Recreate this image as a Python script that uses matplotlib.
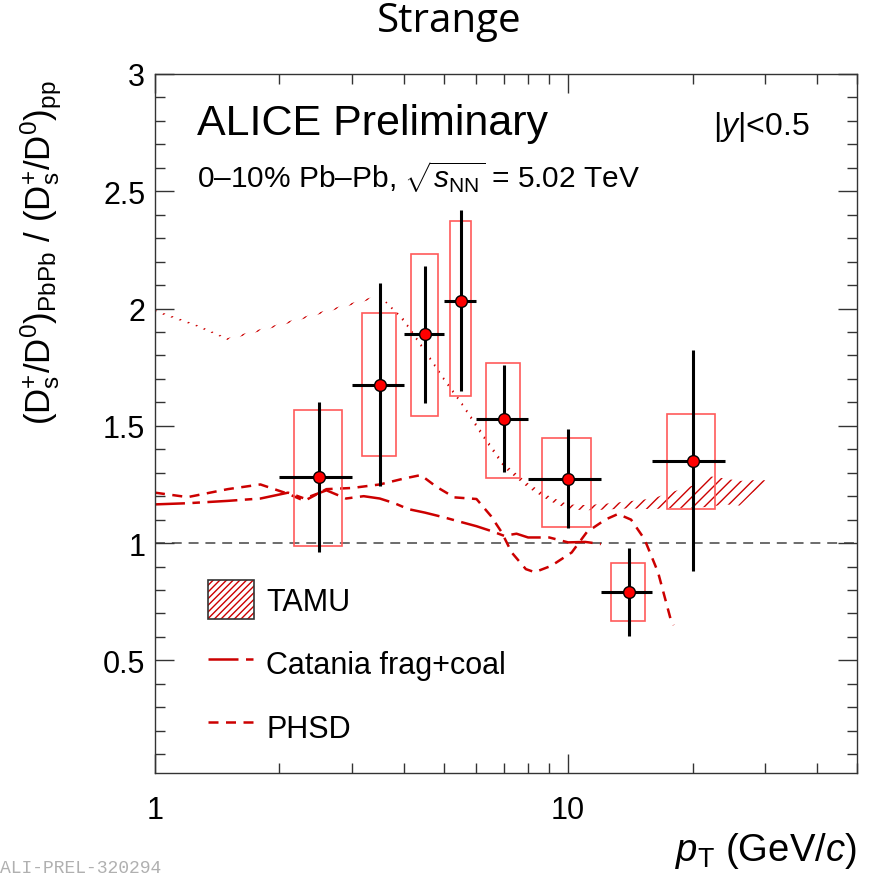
import numpy as np
import matplotlib
matplotlib.use('Agg')
import matplotlib.pyplot as plt
from matplotlib.patches import Rectangle, Patch
from matplotlib.ticker import MultipleLocator, FuncFormatter, NullFormatter, FixedLocator
from matplotlib.legend_handler import HandlerTuple

plt.rcParams['font.family'] = ['Liberation Sans', 'DejaVu Sans']
plt.rcParams['mathtext.fontset'] = 'custom'
plt.rcParams['mathtext.rm'] = 'Liberation Sans'
plt.rcParams['mathtext.it'] = 'Liberation Sans:italic'
plt.rcParams['mathtext.bf'] = 'Liberation Sans:bold'
plt.rcParams['hatch.linewidth'] = 1.0

# ---- measured points (Ds/D0 double ratio, 0-10% Pb-Pb) ----
pt = np.array([2.5, 3.5, 4.5, 5.5, 7.0, 10.0, 14.0, 20.0])
pt_lo = np.array([2, 3, 4, 5, 6, 8, 12, 16])
pt_hi = np.array([3, 4, 5, 6, 8, 12, 16, 24])
ratio = np.array([1.283, 1.676, 1.890, 2.034, 1.527, 1.274, 0.792, 1.351])
stat_lo = np.array([0.963, 1.244, 1.597, 1.648, 1.304, 1.063, 0.605, 0.879])
stat_hi = np.array([1.600, 2.111, 2.180, 2.421, 1.759, 1.486, 0.977, 1.823])
syst_lo = np.array([0.986, 1.372, 1.540, 1.628, 1.278, 1.067, 0.666, 1.144])
syst_hi = np.array([1.568, 1.983, 2.233, 2.373, 1.767, 1.446, 0.915, 1.549])

# ---- TAMU band ----
tamu_pt = [1.0, 1.25, 1.5, 2.0, 2.5, 3.0, 3.5, 4.0, 4.5, 5.0, 5.5, 6.0, 6.5, 7.0,
           8.0, 9.0, 10.0, 11.0, 12.0, 14.0, 16.0, 18.0, 20.0, 22.0, 24.0, 26.0, 28.0, 30.0]
tamu_lo = [1.986, 1.926, 1.866, 1.926, 1.976, 2.016, 2.050, 1.942, 1.812, 1.692, 1.592, 1.490,
           1.400, 1.320, 1.235, 1.180, 1.145, 1.140, 1.142, 1.148, 1.145, 1.150, 1.150, 1.155,
           1.165, 1.160, 1.215, 1.250]
tamu_hi = [1.994, 1.934, 1.874, 1.934, 1.984, 2.024, 2.058, 1.958, 1.828, 1.708, 1.608, 1.510,
           1.420, 1.340, 1.255, 1.200, 1.165, 1.162, 1.166, 1.178, 1.190, 1.220, 1.245, 1.285,
           1.275, 1.265, 1.268, 1.268]

# ---- Catania frag+coal ----
cat_pt = [1.0, 1.2, 1.5, 1.8, 2.1, 2.3, 2.6, 2.9, 3.2, 3.5, 3.8, 4.1, 4.5, 5.0, 5.5,
          6.0, 6.5, 7.0, 7.5, 8.0, 9.0, 10.0, 11.0, 12.0]
cat_val = [1.165, 1.170, 1.180, 1.190, 1.215, 1.190, 1.225, 1.190, 1.200, 1.190, 1.170, 1.145,
           1.130, 1.110, 1.090, 1.072, 1.052, 1.031, 1.040, 1.024, 1.024, 1.003, 1.005, 0.996]

# ---- PHSD ----
phsd_pt = [1.0, 1.2, 1.5, 1.8, 2.1, 2.3, 2.6, 3.0, 3.5, 4.0, 4.4, 4.8, 5.3, 6.0, 6.5, 6.9,
           7.3, 7.9, 8.3, 9.1, 10.2, 11.1, 12.3, 13.2, 14.2, 15.3, 16.5, 17.7, 18.0]
phsd_val = [1.215, 1.196, 1.230, 1.250, 1.210, 1.180, 1.230, 1.235, 1.250, 1.275, 1.290, 1.240,
            1.195, 1.188, 1.116, 1.047, 0.960, 0.889, 0.876, 0.903, 0.960, 1.047, 1.100, 1.124,
            1.100, 1.017, 0.876, 0.676, 0.650]

red_line = '#cc0000'
red_box = '#ff5a5a'

fig = plt.figure(figsize=(8.84, 8.79), dpi=100)
ax = fig.add_axes([0.1753, 0.1195, 0.7941, 0.7952])
ax.set_xscale('log')
ax.set_xlim(1, 50)
ax.set_ylim(0.02, 3.0)

ax.axhline(1.0, color='#444444', lw=1.1, ls=(0, (6.5, 4.5)), zorder=1)

# TAMU hatched band
ax.fill_between(tamu_pt, tamu_lo, tamu_hi, facecolor='none', edgecolor=red_line,
                hatch='///', linewidth=0, zorder=2)
cat_line, = ax.plot(cat_pt, cat_val, color=red_line, lw=1.8, ls=(0, (12, 3, 3, 3)), zorder=2)
phsd_line, = ax.plot(phsd_pt, phsd_val, color=red_line, lw=1.8, ls=(0, (4, 3)), zorder=2)

# systematic boxes: 2/3 of the bin width
for c, lo, hi, ylo, yhi in zip(pt, pt_lo, pt_hi, syst_lo, syst_hi):
    hw = (hi - lo) / 3.0
    ax.add_patch(Rectangle((c - hw, ylo), 2 * hw, yhi - ylo, facecolor='none',
                           edgecolor=red_box, lw=1.2, zorder=3))

ax.errorbar(pt, ratio, xerr=[pt - pt_lo, pt_hi - pt], yerr=[ratio - stat_lo, stat_hi - ratio],
            fmt='o', color='black', mfc='red', mec='black', mew=1.0, ms=8.5,
            elinewidth=2.2, capsize=0, zorder=5)

# axes style (ROOT like)
ax.xaxis.set_major_locator(FixedLocator([1, 10]))
ax.xaxis.set_major_formatter(FuncFormatter(lambda v, p: '%g' % v))
ax.xaxis.set_minor_formatter(NullFormatter())
ax.yaxis.set_major_locator(MultipleLocator(0.5))
ax.yaxis.set_minor_locator(MultipleLocator(0.1))
ax.yaxis.set_major_formatter(FuncFormatter(lambda v, p: '%g' % v))
ax.tick_params(which='both', direction='in', top=True, right=True, width=1.0, color='#333333')
ax.tick_params(which='major', length=14, labelsize=22)
ax.tick_params(which='minor', length=7)
ax.tick_params(axis='x', which='major', pad=16)
ax.tick_params(axis='y', which='major', pad=7)
for s in ax.spines.values():
    s.set_linewidth(1.0)
    s.set_color('#333333')

ax.set_xlabel(r'$p_{\mathrm{T}}$ (GeV/$c$)', fontsize=27.5, loc='right')
ax.xaxis.set_label_coords(1.0, -0.082)
ax.set_ylabel(r'$\mathrm{(D_{s}^{+}/D^{0})_{PbPb}\ /\ (D_{s}^{+}/D^{0})_{pp}}$',
              fontsize=25, loc='top')
ax.yaxis.set_label_coords(-0.13, 0.993)

ax.text(0.06, 0.914, 'ALICE Preliminary', transform=ax.transAxes, fontsize=31, va='baseline')
ax.text(0.06, 0.838, r'0–10% Pb–Pb, $\sqrt{s_{\mathrm{NN}}}$ = 5.02 TeV',
        transform=ax.transAxes, fontsize=21.5, va='baseline')
ax.text(0.933, 0.914, r'|$y$|<0.5', transform=ax.transAxes, fontsize=23,
        va='baseline', ha='right')

# legend
tamu_fill = Patch(facecolor='none', edgecolor=red_line, hatch='/////', linewidth=0)
tamu_edge = Patch(facecolor='none', edgecolor='#333333', linewidth=1.2)
leg = ax.legend([(tamu_fill, tamu_edge), cat_line, phsd_line],
                ['TAMU', 'Catania frag+coal', 'PHSD'],
                handler_map={tuple: HandlerTuple(ndivide=1)},
                loc='upper left', bbox_to_anchor=(0.0755, 0.276), frameon=False,
                fontsize=22, borderpad=0, borderaxespad=0, handlelength=1.5,
                handleheight=1.6, handletextpad=0.4, labelspacing=0.8)

fig.text(0.508, 0.975, 'Strange', fontsize=29, ha='center', va='center', family='Open Sans')
fig.text(0.0, 0.002, 'ALI-PREL-320294', fontsize=13, color='#b0b0b0',
         family='Liberation Mono', ha='left', va='bottom')

fig.savefig('out.png', dpi=100)
